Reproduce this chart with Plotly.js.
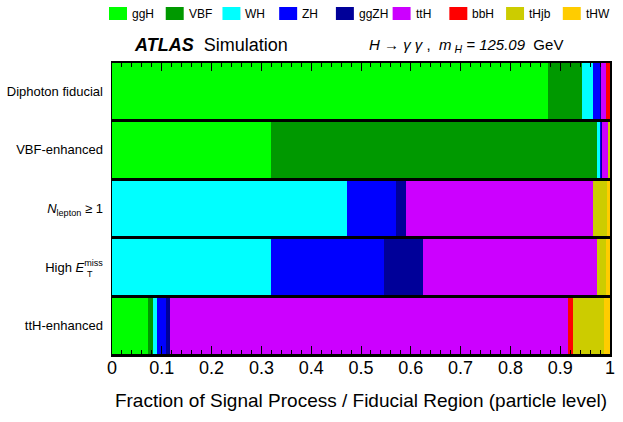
<!DOCTYPE html>
<html>
<head>
<meta charset="utf-8">
<script src="https://cdn.plot.ly/plotly-3.0.1.min.js"></script>
<style>
  html, body { margin: 0; padding: 0; background: #fff; }
  #chart { width: 623px; height: 422px; }
</style>
</head>
<body>
<div id="chart"></div>
<script>
// fiducial regions, top to bottom
var regions = ['Diphoton fiducial', 'VBF-enhanced', 'Nlepton>=1', 'High MET', 'ttH-enhanced'];
var regionLabels = ['Diphoton fiducial', 'VBF-enhanced', '<i>N</i><sub>lepton</sub> \u2265 1',
                    'High <i>E</i><sup>miss</sup>', 'ttH-enhanced'];

var processes = ['ggH', 'VBF', 'WH', 'ZH', 'ggZH', 'ttH', 'bbH', 'tHjb', 'tHW'];
var colors = ['#00ff00', '#009900', '#00ffff', '#0000ff', '#000099', '#cc00ff', '#ff0000', '#cccc00', '#ffcc00'];

// fraction of each process per region
var ggH  = [0.876, 0.319, 0.0,    0.0,    0.0723];
var VBF  = [0.068, 0.6555, 0.0,   0.0,    0.0107];
var WH   = [0.022, 0.0046, 0.4719, 0.3199, 0.0074];
var ZH   = [0.013, 0.0034, 0.0974, 0.2257, 0.0175];
var ggZH = [0.002, 0.0005, 0.0205, 0.0789, 0.008];
var ttH  = [0.010, 0.012,  0.3767, 0.3494, 0.799];
var bbH  = [0.008, 0.0005, 0.0,    0.0,    0.0112];
var tHjb = [0.0005, 0.004, 0.0269, 0.0175, 0.061];
var tHW  = [0.0005, 0.0005, 0.0066, 0.0086, 0.0127];

var fractions = [ggH, VBF, WH, ZH, ggZH, ttH, bbH, tHjb, tHW];

var font = 'Liberation Sans, Arial, Helvetica, sans-serif';

var data = [];
for (var i = 0; i < processes.length; i++) {
  data.push({
    type: 'bar',
    orientation: 'h',
    name: processes[i],
    y: regions,
    x: fractions[i],
    marker: { color: colors[i], line: { width: 0 } },
    hoverinfo: 'name+x'
  });
}

// ROOT-style legend row above the frame (plotly's legend can't do the tight spacing)
var shapes = [];
var annotations = [];
var legX0 = -0.006, legStep = 0.1139, boxW = 0.0361;
for (var j = 0; j < processes.length; j++) {
  var lx = legX0 + j * legStep;
  shapes.push({
    type: 'rect', xref: 'paper', yref: 'paper',
    x0: lx, x1: lx + boxW, y0: 1.1433, y1: 1.1877,
    fillcolor: colors[j], line: { width: 0 }
  });
  annotations.push({
    xref: 'paper', yref: 'paper', x: lx + boxW + 0.006, y: 1.1655,
    xanchor: 'left', yanchor: 'middle', showarrow: false,
    font: { size: 12, family: font }, text: processes[j]
  });
}

annotations.push(
  { xref: 'paper', yref: 'paper', x: 0.04, y: 1.058, xanchor: 'left', yanchor: 'middle',
    showarrow: false, font: { size: 18, family: font },
    text: '<b><i>ATLAS</i></b>  Simulation' },
  { xref: 'paper', yref: 'paper', x: 0.512, y: 1.058, xanchor: 'left', yanchor: 'middle',
    showarrow: false, font: { size: 15, family: font },
    text: '<i>H</i> \u2192 <i>\u03b3 \u03b3</i> ,  <i>m</i><sub> <i>H</i></sub><i> = 125.09</i>  GeV' },
  // subscript T of E_T^miss, sits under "miss"
  { xref: 'paper', yref: 'y', x: -0.054, y: regions[3], xanchor: 'left', yanchor: 'middle',
    yshift: -7, showarrow: false, font: { size: 9, family: font }, text: 'T' }
);

var layout = {
  width: 623,
  height: 422,
  margin: { l: 112, r: 13, t: 62, b: 67, autoexpand: false },
  paper_bgcolor: '#ffffff',
  plot_bgcolor: '#000000',
  barmode: 'stack',
  bargap: 0.045,
  font: { family: font, color: '#000000' },
  showlegend: false,
  xaxis: {
    range: [0, 1],
    dtick: 0.1,
    ticks: 'inside',
    ticklen: 9,
    tickwidth: 1,
    tickcolor: '#000',
    minor: { dtick: 0.02, ticks: 'inside', ticklen: 5, tickwidth: 1, tickcolor: '#000' },
    mirror: 'ticks',
    showline: true,
    linecolor: '#000',
    linewidth: 1.5,
    showgrid: false,
    zeroline: false,
    ticklabelstandoff: -4,
    tickfont: { size: 18, family: font },
    title: { text: 'Fraction of Signal Process / Fiducial Region (particle level)',
             font: { size: 19, family: font }, standoff: 16 }
  },
  yaxis: {
    type: 'category',
    autorange: 'reversed',
    tickmode: 'array',
    tickvals: regions,
    ticktext: regionLabels,
    ticks: '',
    ticklabelstandoff: 5,
    showline: true,
    mirror: true,
    linecolor: '#000',
    linewidth: 1.5,
    showgrid: false,
    tickfont: { size: 13, family: font }
  },
  shapes: shapes,
  annotations: annotations
};

Plotly.newPlot('chart', data, layout, { displayModeBar: false, staticPlot: true });
</script>
</body>
</html>
